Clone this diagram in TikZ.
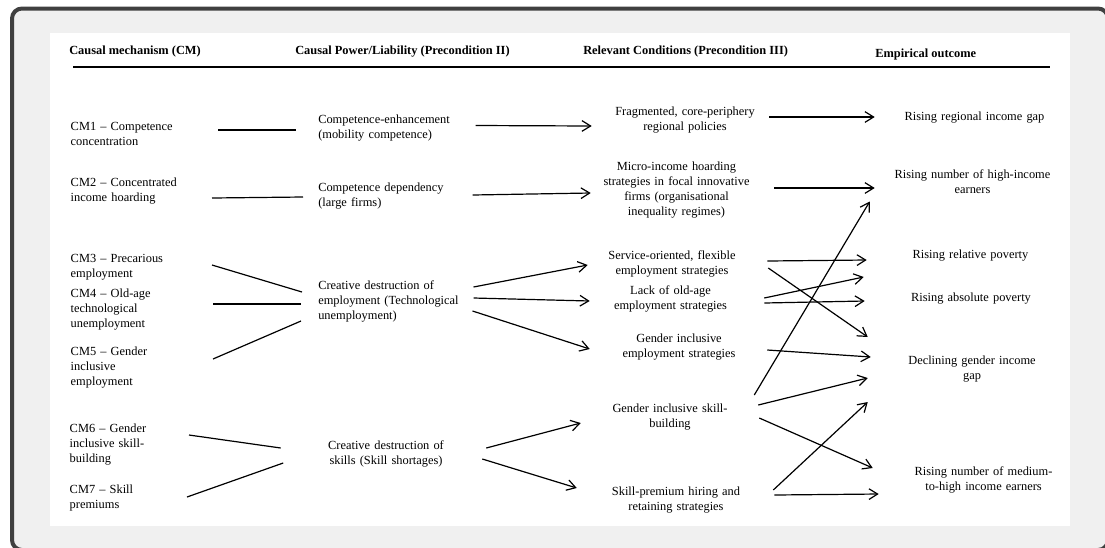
\documentclass[tikz,border=0pt]{standalone}
\usepackage{fontspec}
\setmainfont{Liberation Serif}
\usepackage{tikz}
\usetikzlibrary{arrows.meta}
\definecolor{panelgray}{HTML}{F0F0F0}
\definecolor{framegray}{HTML}{404040}
\newcommand{\diagfont}{\fontsize{9.3}{11.25}\selectfont}

\begin{document}
\begin{tikzpicture}[
   x=0.75pt, y=-0.75pt,
   headbox/.style={anchor=west,inner sep=0pt,font=\diagfont\bfseries},
   mechbox/.style={anchor=east,align=left,text width=106.5pt,inner sep=0pt,font=\diagfont},
   powerbox/.style={anchor=west,align=left,text width=106.5pt,inner xsep=11.25pt,inner ysep=0pt,font=\diagfont},
   condbox/.style={align=center,text width=112.5pt,inner xsep=9.75pt,inner ysep=0pt,font=\diagfont},
   outbox/.style={align=center,text width=120pt,inner xsep=18pt,inner ysep=0pt,font=\diagfont},
   link/.style={line width=0.9pt},
   arr/.style={line width=0.9pt,-{Straight Barb[length=6.5pt,width=8pt]}},
]
\useasboundingbox (0,0) rectangle (1105,547);
\draw[line width=3pt,draw=framegray,fill=panelgray,rounded corners=7.5pt] (12,8.5) rectangle (1108,550);
\fill[white] (50,33) rectangle (1070,526);

% column heads
\node[headbox] (hcm) at (69,52) {Causal mechanism (CM)};
\node[headbox] (hpower) at (295,52) {Causal Power/Liability (Precondition II)};
\node[headbox] (hcond) at (583,52) {Relevant Conditions (Precondition III)};
\node[headbox] (hout) at (875,55) {Empirical outcome};
\draw[line width=1.2pt] (73,67) -- (1050,67);

\node[mechbox] (cm1) at (213,134) {CM1 – Competence\\concentration};
\node[mechbox] (cm2) at (213,191) {CM2 – Concentrated\\income hoarding};
\node[mechbox] (cm3) at (213,267.5) {CM3 – Precarious\\employment};
\node[mechbox] (cm4) at (213,310) {CM4 – Old-age\\technological\\unemployment};
\node[mechbox] (cm5) at (213,368) {CM5 – Gender\\inclusive\\employment};
\node[mechbox,text width=88.5pt] (cm6) at (188,445) {CM6 – Gender\\inclusive skill-\\building};
\node[mechbox,text width=88.5pt] (cm7) at (188,498) {CM7 – Skill\\premiums};

\node[powerbox] (ce) at (303,128.5) {Competence-enhancement\\(mobility competence)};
\node[powerbox] (cd) at (303,196) {Competence dependency\\(large firms)};
\node[powerbox] (cde) at (303,301) {Creative destruction of\\employment (Technological\\unemployment)};
\node[powerbox,anchor=center,align=center,text width=90pt,inner xsep=31.9pt] (cds) at (386,454) {Creative destruction of\\skills (Skill shortages)};

\node[condbox] (frag) at (685,120) {Fragmented, core-periphery\\regional policies};
\node[condbox] (micro) at (676.5,190) {Micro-income hoarding\\strategies in focal innovative\\firms (organisational\\inequality regimes)};
\node[condbox] (serv) at (672,264) {Service-oriented, flexible\\employment strategies};
\node[condbox] (lack) at (670.5,299) {Lack of old-age\\employment strategies};
\node[condbox] (gempl) at (679,347) {Gender inclusive\\employment strategies};
\node[condbox] (gskill) at (670,417) {Gender inclusive skill-\\building};
\node[condbox] (prem) at (676,500) {Skill-premium hiring and\\retaining strategies};

\node[outbox] (regional) at (974.5,118) {Rising regional income gap};
\node[outbox] (high) at (972.5,181.5) {Rising number of high-income\\earners};
\node[outbox] (relpov) at (970.5,256) {Rising relative poverty};
\node[outbox] (abspov) at (971,299) {Rising absolute poverty};
\node[outbox] (decl) at (972,369) {Declining gender income\\gap};
\node[outbox] (medium) at (983.5,480) {Rising number of medium-\\to-high income earners};

\draw[link] ([shift={(5,-4)}]cm1.east) -- ([shift={(-7,1.5)}]ce.west);
\draw[link] ([shift={(-1,7)}]cm2.east) -- ([shift={(0,1)}]cd.west);
\draw[link] ([shift={(-1,-2.5)}]cm3.east) -- ([shift={(-1,-9)}]cde.west);
\draw[link] ([shift={(0,-6)}]cm4.east) -- ([shift={(-2,3)}]cde.west);
\draw[link] ([shift={(0,-9)}]cm5.east) -- ([shift={(-2,20)}]cde.west);
\draw[link] ([shift={(1,-10)}]cm6.east) -- ([shift={(-2.5,-6)}]cds.west);
\draw[link] ([shift={(-1,-1)}]cm7.east) -- ([shift={(0,9)}]cds.west);

\draw[arr] ([shift={(0,-3)}]ce.east) -- ([shift={(-5,6)}]frag.west);
\draw[arr] ([shift={(-3,-1)}]cd.east) -- ([shift={(2.5,3)}]micro.west);
\draw[arr] ([shift={(-2,-14)}]cde.east) -- ([shift={(4,1)}]serv.west);
\draw[arr] ([shift={(-2,-3)}]cde.east) -- ([shift={(7.5,2)}]lack.west);
\draw[arr] ([shift={(-3,10)}]cde.east) -- ([shift={(-1,2)}]gempl.west);
\draw[arr] ([shift={(-2.5,-6)}]cds.east) -- ([shift={(-1,6)}]gskill.west);
\draw[arr] ([shift={(-6.5,5)}]cds.east) -- ([shift={(-11,-12)}]prem.west);

\draw[arr] ([shift={(-4,-3)}]frag.east) -- ([shift={(4.5,-1)}]regional.west);
\draw[arr] ([shift={(9.5,-2)}]micro.east) -- ([shift={(6.5,6.5)}]high.west);
\draw[arr] ([shift={(7,-3)}]serv.east) -- ([shift={(0.5,4)}]relpov.west);
\draw[arr] ([shift={(8,4)}]serv.east) -- ([shift={(0,-32)}]decl.west);
\draw[arr] ([shift={(5.5,-1)}]lack.east) -- ([shift={(-2.5,21)}]relpov.west);
\draw[arr] ([shift={(5.5,4)}]lack.east) -- ([shift={(-2,2)}]abspov.west);
\draw[arr] ([shift={(0,3)}]gempl.east) -- ([shift={(3,-12)}]decl.west);
\draw[arr] ([shift={(-4,-22)}]gskill.east) -- ([shift={(1.5,20)}]high.west);
\draw[arr] ([shift={(0,-12)}]gskill.east) -- ([shift={(0,9)}]decl.west);
\draw[arr] ([shift={(1,1)}]gskill.east) -- ([shift={(-6.5,-12)}]medium.west);
\draw[arr] ([shift={(9,-10)}]prem.east) -- ([shift={(0,33)}]decl.west);
\draw[arr] ([shift={(10,-5)}]prem.east) -- ([shift={(-0.5,14)}]medium.west);
\end{tikzpicture}
\end{document}
